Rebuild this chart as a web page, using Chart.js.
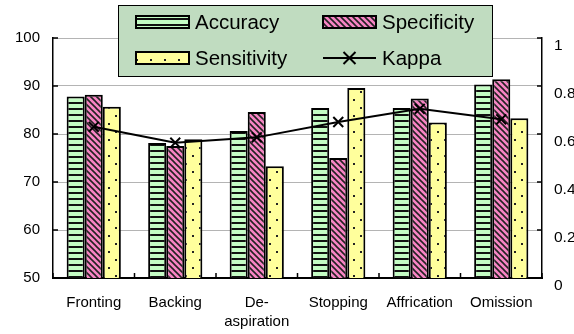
<!DOCTYPE html>
<html><head><meta charset="utf-8">
<script src="https://cdn.jsdelivr.net/npm/chart.js@4/dist/chart.umd.min.js"></script>
<style>html,body{margin:0;padding:0;background:#fff}#wrap{width:574px;height:334px}</style>
</head><body><div id="wrap"><canvas id="c" width="574" height="334"></canvas></div>
<script>
const categories = ["Fronting", "Backing", ["De-", "aspiration"], "Stopping", "Affrication", "Omission"];
const accuracy    = [87.8, 78.1, 80.6, 85.4, 85.4, 90.3];
const specificity = [88.2, 77.5, 84.6, 75.0, 87.4, 91.4];
const sensitivity = [85.7, 78.9, 73.3, 89.6, 82.4, 83.3];
const kappa       = [0.63, 0.564, 0.586, 0.65, 0.705, 0.661];
const leftTicks  = [50, 60, 70, 80, 90, 100];
const rightTicks = [0, 0.2, 0.4, 0.6, 0.8, 1];

function mkPattern(w, h, draw) {
  const c = document.createElement('canvas'); c.width = w; c.height = h;
  const g = c.getContext('2d'); draw(g, w, h);
  return document.getElementById('c').getContext('2d').createPattern(c, 'repeat');
}
const patAcc = mkPattern(6, 6, (g, w, h) => {
  g.fillStyle = '#c4fcc4'; g.fillRect(0, 0, w, h);
  g.fillStyle = '#111'; g.fillRect(0, 0, w, 2);
});
const patSpe = mkPattern(6, 6, (g, w, h) => {
  g.fillStyle = '#f884c4'; g.fillRect(0, 0, w, h);
  g.strokeStyle = '#222'; g.lineWidth = 1.6;
  for (let k = -1; k <= 1; k++) {
    g.beginPath(); g.moveTo(k * w - 1, -1); g.lineTo(k * w + w + 1, h + 1); g.stroke();
  }
});
const patSen = mkPattern(14, 16, (g, w, h) => {
  g.fillStyle = '#ffff9c'; g.fillRect(0, 0, w, h);
  g.fillStyle = '#222';
  g.fillRect(3, 3, 2, 2); g.fillRect(10, 11, 2, 2);
});

const FONT = 'Liberation Sans, Arial, sans-serif';

const innerTicks = {
  id: 'innerTicks',
  afterDatasetsDraw(chart) {
    const {ctx, chartArea: a, scales} = chart;
    ctx.save(); ctx.strokeStyle = '#000'; ctx.lineWidth = 1.5;
    ctx.beginPath();
    leftTicks.forEach(v => { const y = scales.y.getPixelForValue(v); ctx.moveTo(a.left, y); ctx.lineTo(a.left + 5, y); });
    rightTicks.forEach(v => { const y = scales.y1.getPixelForValue(v); ctx.moveTo(a.right - 5, y); ctx.lineTo(a.right, y); });
    const n = categories.length;
    for (let i = 0; i <= n; i++) {
      let x;
      if (i === 0) x = a.left; else if (i === n) x = a.right;
      else x = (scales.x.getPixelForValue(i - 1) + scales.x.getPixelForValue(i)) / 2;
      ctx.moveTo(x, a.bottom); ctx.lineTo(x, a.bottom - 5);
    }
    ctx.stroke(); ctx.restore();
  }
};

const boxLegend = {
  id: 'boxLegend',
  afterDraw(chart) {
    const ctx = chart.ctx; const ds = chart.data.datasets;
    ctx.save();
    ctx.fillStyle = '#c0dcc0'; ctx.fillRect(118, 5, 374, 71);
    ctx.strokeStyle = '#000'; ctx.lineWidth = 1; ctx.strokeRect(118.5, 5.5, 374, 71);
    const cells = [[0, 136, 22], [1, 323, 22], [2, 136, 58], [3, 323, 58]];
    ctx.font = '20.5px ' + FONT; ctx.textBaseline = 'middle'; ctx.fillStyle = '#000';
    cells.forEach(([i, x, y]) => {
      const d = ds[i];
      if (d.type === 'line') {
        ctx.strokeStyle = '#000'; ctx.lineWidth = 2;
        ctx.beginPath(); ctx.moveTo(x, y); ctx.lineTo(x + 53, y);
        const cx = x + 26.5, r = 6;
        ctx.moveTo(cx - r, y - r); ctx.lineTo(cx + r, y + r);
        ctx.moveTo(cx + r, y - r); ctx.lineTo(cx - r, y + r);
        ctx.stroke();
      } else {
        ctx.fillStyle = d.backgroundColor; ctx.fillRect(x, y - 6, 53, 12);
        ctx.strokeStyle = '#000'; ctx.lineWidth = 2; ctx.strokeRect(x, y - 6, 53, 12);
      }
      ctx.fillStyle = '#000';
      ctx.fillText(d.label, x + 59, y + 1);
    });
    ctx.restore();
  }
};

new Chart(document.getElementById('c'), {
  data: {
    labels: categories,
    datasets: [
      {type: 'bar', label: 'Accuracy', data: accuracy, backgroundColor: patAcc, borderColor: '#000', borderWidth: 2, yAxisID: 'y', order: 2},
      {type: 'bar', label: 'Specificity', data: specificity, backgroundColor: patSpe, borderColor: '#000', borderWidth: 2, yAxisID: 'y', order: 2},
      {type: 'bar', label: 'Sensitivity', data: sensitivity, backgroundColor: patSen, borderColor: '#000', borderWidth: 2, yAxisID: 'y', order: 2},
      {type: 'line', label: 'Kappa', data: kappa, borderColor: '#000', borderWidth: 2, pointStyle: 'crossRot', pointRadius: 7, pointBorderWidth: 2, pointBorderColor: '#000', pointBackgroundColor: '#000', tension: 0, fill: false, yAxisID: 'y1', order: 0}
    ]
  },
  options: {
    responsive: false, animation: false,
    layout: {padding: {top: 38, left: 0, right: 0, bottom: 0}},
    datasets: {bar: {barPercentage: 1, categoryPercentage: 0.665}},
    plugins: {legend: {display: false}, tooltip: {enabled: false}},
    scales: {
      x: {
        offset: true,
        grid: {display: true, color: 'rgba(0,0,0,0)', drawTicks: false, offset: true},
        border: {display: true, color: '#000', width: 2},
        ticks: {color: '#000', font: {family: FONT, size: 15, lineHeight: 1.3}, padding: 15, maxRotation: 0, autoSkip: false},
        afterFit(s) { s.height = 56; }
      },
      y: {
        position: 'left', min: 50, max: 100,
        afterBuildTicks(s) { s.ticks = leftTicks.map(v => ({value: v})); },
        grid: {color: '#b4b4b4', lineWidth: 1, drawTicks: false},
        border: {display: true, color: '#000', width: 1.5},
        ticks: {color: '#000', font: {family: FONT, size: 15}, padding: 13},
        afterFit(s) { s.width = 53; }
      },
      y1: {
        position: 'right', min: 0, max: 1,
        afterBuildTicks(s) { s.ticks = rightTicks.map(v => ({value: v})); },
        grid: {drawOnChartArea: false, drawTicks: false},
        border: {display: true, color: '#000', width: 1.5},
        ticks: {color: '#000', font: {family: FONT, size: 15.5}, padding: 12, align: 'start', callback: v => String(v)},
        afterFit(s) { s.width = 32; }
      }
    }
  },
  plugins: [innerTicks, boxLegend]
});
</script>
</body></html>
